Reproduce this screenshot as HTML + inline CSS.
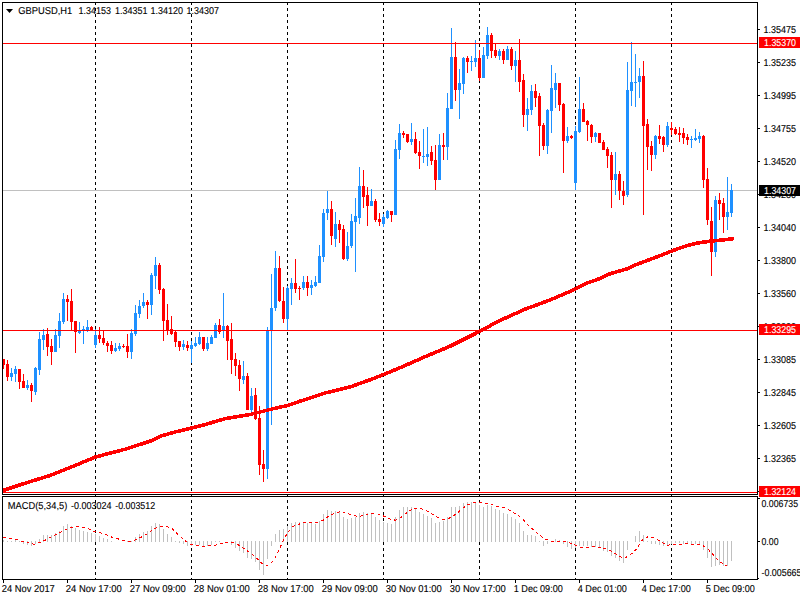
<!DOCTYPE html>
<html lang="en"><head><meta charset="utf-8"><title>GBPUSD,H1</title>
<style>html,body{margin:0;padding:0;background:#fff;overflow:hidden}svg{display:block}text{font-family:"Liberation Sans",sans-serif;font-size:10px;fill:#000;text-rendering:geometricPrecision;stroke:#000;stroke-width:0.12px}</style>
</head><body>
<svg width="800" height="600" viewBox="0 0 800 600" shape-rendering="crispEdges">
<rect x="0" y="0" width="800" height="600" fill="#fff"/>
<g fill="#000">
<rect x="95" y="2" width="1" height="3"/>
<rect x="95" y="8" width="1" height="3"/>
<rect x="95" y="14" width="1" height="3"/>
<rect x="95" y="20" width="1" height="3"/>
<rect x="95" y="26" width="1" height="3"/>
<rect x="95" y="32" width="1" height="3"/>
<rect x="95" y="38" width="1" height="3"/>
<rect x="95" y="44" width="1" height="3"/>
<rect x="95" y="50" width="1" height="3"/>
<rect x="95" y="56" width="1" height="3"/>
<rect x="95" y="62" width="1" height="3"/>
<rect x="95" y="68" width="1" height="3"/>
<rect x="95" y="74" width="1" height="3"/>
<rect x="95" y="80" width="1" height="3"/>
<rect x="95" y="86" width="1" height="3"/>
<rect x="95" y="92" width="1" height="3"/>
<rect x="95" y="98" width="1" height="3"/>
<rect x="95" y="104" width="1" height="3"/>
<rect x="95" y="110" width="1" height="3"/>
<rect x="95" y="116" width="1" height="3"/>
<rect x="95" y="122" width="1" height="3"/>
<rect x="95" y="128" width="1" height="3"/>
<rect x="95" y="134" width="1" height="3"/>
<rect x="95" y="140" width="1" height="3"/>
<rect x="95" y="146" width="1" height="3"/>
<rect x="95" y="152" width="1" height="3"/>
<rect x="95" y="158" width="1" height="3"/>
<rect x="95" y="164" width="1" height="3"/>
<rect x="95" y="170" width="1" height="3"/>
<rect x="95" y="176" width="1" height="3"/>
<rect x="95" y="182" width="1" height="3"/>
<rect x="95" y="188" width="1" height="3"/>
<rect x="95" y="194" width="1" height="3"/>
<rect x="95" y="200" width="1" height="3"/>
<rect x="95" y="206" width="1" height="3"/>
<rect x="95" y="212" width="1" height="3"/>
<rect x="95" y="218" width="1" height="3"/>
<rect x="95" y="224" width="1" height="3"/>
<rect x="95" y="230" width="1" height="3"/>
<rect x="95" y="236" width="1" height="3"/>
<rect x="95" y="242" width="1" height="3"/>
<rect x="95" y="248" width="1" height="3"/>
<rect x="95" y="254" width="1" height="3"/>
<rect x="95" y="260" width="1" height="3"/>
<rect x="95" y="266" width="1" height="3"/>
<rect x="95" y="272" width="1" height="3"/>
<rect x="95" y="278" width="1" height="3"/>
<rect x="95" y="284" width="1" height="3"/>
<rect x="95" y="290" width="1" height="3"/>
<rect x="95" y="296" width="1" height="3"/>
<rect x="95" y="302" width="1" height="3"/>
<rect x="95" y="308" width="1" height="3"/>
<rect x="95" y="314" width="1" height="3"/>
<rect x="95" y="320" width="1" height="3"/>
<rect x="95" y="326" width="1" height="3"/>
<rect x="95" y="332" width="1" height="3"/>
<rect x="95" y="338" width="1" height="3"/>
<rect x="95" y="344" width="1" height="3"/>
<rect x="95" y="350" width="1" height="3"/>
<rect x="95" y="356" width="1" height="3"/>
<rect x="95" y="362" width="1" height="3"/>
<rect x="95" y="368" width="1" height="3"/>
<rect x="95" y="374" width="1" height="3"/>
<rect x="95" y="380" width="1" height="3"/>
<rect x="95" y="386" width="1" height="3"/>
<rect x="95" y="392" width="1" height="3"/>
<rect x="95" y="398" width="1" height="3"/>
<rect x="95" y="404" width="1" height="3"/>
<rect x="95" y="410" width="1" height="3"/>
<rect x="95" y="416" width="1" height="3"/>
<rect x="95" y="422" width="1" height="3"/>
<rect x="95" y="428" width="1" height="3"/>
<rect x="95" y="434" width="1" height="3"/>
<rect x="95" y="440" width="1" height="3"/>
<rect x="95" y="446" width="1" height="3"/>
<rect x="95" y="452" width="1" height="3"/>
<rect x="95" y="458" width="1" height="3"/>
<rect x="95" y="464" width="1" height="3"/>
<rect x="95" y="470" width="1" height="3"/>
<rect x="95" y="476" width="1" height="3"/>
<rect x="95" y="482" width="1" height="3"/>
<rect x="95" y="488" width="1" height="3"/>
<rect x="95" y="494" width="1" height="3"/>
<rect x="95" y="500" width="1" height="3"/>
<rect x="95" y="506" width="1" height="3"/>
<rect x="95" y="512" width="1" height="3"/>
<rect x="95" y="518" width="1" height="3"/>
<rect x="95" y="524" width="1" height="3"/>
<rect x="95" y="530" width="1" height="3"/>
<rect x="95" y="536" width="1" height="3"/>
<rect x="95" y="542" width="1" height="3"/>
<rect x="95" y="548" width="1" height="3"/>
<rect x="95" y="554" width="1" height="3"/>
<rect x="95" y="560" width="1" height="3"/>
<rect x="95" y="566" width="1" height="3"/>
<rect x="95" y="572" width="1" height="3"/>
<rect x="95" y="578" width="1" height="2"/>
<rect x="191" y="2" width="1" height="3"/>
<rect x="191" y="8" width="1" height="3"/>
<rect x="191" y="14" width="1" height="3"/>
<rect x="191" y="20" width="1" height="3"/>
<rect x="191" y="26" width="1" height="3"/>
<rect x="191" y="32" width="1" height="3"/>
<rect x="191" y="38" width="1" height="3"/>
<rect x="191" y="44" width="1" height="3"/>
<rect x="191" y="50" width="1" height="3"/>
<rect x="191" y="56" width="1" height="3"/>
<rect x="191" y="62" width="1" height="3"/>
<rect x="191" y="68" width="1" height="3"/>
<rect x="191" y="74" width="1" height="3"/>
<rect x="191" y="80" width="1" height="3"/>
<rect x="191" y="86" width="1" height="3"/>
<rect x="191" y="92" width="1" height="3"/>
<rect x="191" y="98" width="1" height="3"/>
<rect x="191" y="104" width="1" height="3"/>
<rect x="191" y="110" width="1" height="3"/>
<rect x="191" y="116" width="1" height="3"/>
<rect x="191" y="122" width="1" height="3"/>
<rect x="191" y="128" width="1" height="3"/>
<rect x="191" y="134" width="1" height="3"/>
<rect x="191" y="140" width="1" height="3"/>
<rect x="191" y="146" width="1" height="3"/>
<rect x="191" y="152" width="1" height="3"/>
<rect x="191" y="158" width="1" height="3"/>
<rect x="191" y="164" width="1" height="3"/>
<rect x="191" y="170" width="1" height="3"/>
<rect x="191" y="176" width="1" height="3"/>
<rect x="191" y="182" width="1" height="3"/>
<rect x="191" y="188" width="1" height="3"/>
<rect x="191" y="194" width="1" height="3"/>
<rect x="191" y="200" width="1" height="3"/>
<rect x="191" y="206" width="1" height="3"/>
<rect x="191" y="212" width="1" height="3"/>
<rect x="191" y="218" width="1" height="3"/>
<rect x="191" y="224" width="1" height="3"/>
<rect x="191" y="230" width="1" height="3"/>
<rect x="191" y="236" width="1" height="3"/>
<rect x="191" y="242" width="1" height="3"/>
<rect x="191" y="248" width="1" height="3"/>
<rect x="191" y="254" width="1" height="3"/>
<rect x="191" y="260" width="1" height="3"/>
<rect x="191" y="266" width="1" height="3"/>
<rect x="191" y="272" width="1" height="3"/>
<rect x="191" y="278" width="1" height="3"/>
<rect x="191" y="284" width="1" height="3"/>
<rect x="191" y="290" width="1" height="3"/>
<rect x="191" y="296" width="1" height="3"/>
<rect x="191" y="302" width="1" height="3"/>
<rect x="191" y="308" width="1" height="3"/>
<rect x="191" y="314" width="1" height="3"/>
<rect x="191" y="320" width="1" height="3"/>
<rect x="191" y="326" width="1" height="3"/>
<rect x="191" y="332" width="1" height="3"/>
<rect x="191" y="338" width="1" height="3"/>
<rect x="191" y="344" width="1" height="3"/>
<rect x="191" y="350" width="1" height="3"/>
<rect x="191" y="356" width="1" height="3"/>
<rect x="191" y="362" width="1" height="3"/>
<rect x="191" y="368" width="1" height="3"/>
<rect x="191" y="374" width="1" height="3"/>
<rect x="191" y="380" width="1" height="3"/>
<rect x="191" y="386" width="1" height="3"/>
<rect x="191" y="392" width="1" height="3"/>
<rect x="191" y="398" width="1" height="3"/>
<rect x="191" y="404" width="1" height="3"/>
<rect x="191" y="410" width="1" height="3"/>
<rect x="191" y="416" width="1" height="3"/>
<rect x="191" y="422" width="1" height="3"/>
<rect x="191" y="428" width="1" height="3"/>
<rect x="191" y="434" width="1" height="3"/>
<rect x="191" y="440" width="1" height="3"/>
<rect x="191" y="446" width="1" height="3"/>
<rect x="191" y="452" width="1" height="3"/>
<rect x="191" y="458" width="1" height="3"/>
<rect x="191" y="464" width="1" height="3"/>
<rect x="191" y="470" width="1" height="3"/>
<rect x="191" y="476" width="1" height="3"/>
<rect x="191" y="482" width="1" height="3"/>
<rect x="191" y="488" width="1" height="3"/>
<rect x="191" y="494" width="1" height="3"/>
<rect x="191" y="500" width="1" height="3"/>
<rect x="191" y="506" width="1" height="3"/>
<rect x="191" y="512" width="1" height="3"/>
<rect x="191" y="518" width="1" height="3"/>
<rect x="191" y="524" width="1" height="3"/>
<rect x="191" y="530" width="1" height="3"/>
<rect x="191" y="536" width="1" height="3"/>
<rect x="191" y="542" width="1" height="3"/>
<rect x="191" y="548" width="1" height="3"/>
<rect x="191" y="554" width="1" height="3"/>
<rect x="191" y="560" width="1" height="3"/>
<rect x="191" y="566" width="1" height="3"/>
<rect x="191" y="572" width="1" height="3"/>
<rect x="191" y="578" width="1" height="2"/>
<rect x="287" y="2" width="1" height="3"/>
<rect x="287" y="8" width="1" height="3"/>
<rect x="287" y="14" width="1" height="3"/>
<rect x="287" y="20" width="1" height="3"/>
<rect x="287" y="26" width="1" height="3"/>
<rect x="287" y="32" width="1" height="3"/>
<rect x="287" y="38" width="1" height="3"/>
<rect x="287" y="44" width="1" height="3"/>
<rect x="287" y="50" width="1" height="3"/>
<rect x="287" y="56" width="1" height="3"/>
<rect x="287" y="62" width="1" height="3"/>
<rect x="287" y="68" width="1" height="3"/>
<rect x="287" y="74" width="1" height="3"/>
<rect x="287" y="80" width="1" height="3"/>
<rect x="287" y="86" width="1" height="3"/>
<rect x="287" y="92" width="1" height="3"/>
<rect x="287" y="98" width="1" height="3"/>
<rect x="287" y="104" width="1" height="3"/>
<rect x="287" y="110" width="1" height="3"/>
<rect x="287" y="116" width="1" height="3"/>
<rect x="287" y="122" width="1" height="3"/>
<rect x="287" y="128" width="1" height="3"/>
<rect x="287" y="134" width="1" height="3"/>
<rect x="287" y="140" width="1" height="3"/>
<rect x="287" y="146" width="1" height="3"/>
<rect x="287" y="152" width="1" height="3"/>
<rect x="287" y="158" width="1" height="3"/>
<rect x="287" y="164" width="1" height="3"/>
<rect x="287" y="170" width="1" height="3"/>
<rect x="287" y="176" width="1" height="3"/>
<rect x="287" y="182" width="1" height="3"/>
<rect x="287" y="188" width="1" height="3"/>
<rect x="287" y="194" width="1" height="3"/>
<rect x="287" y="200" width="1" height="3"/>
<rect x="287" y="206" width="1" height="3"/>
<rect x="287" y="212" width="1" height="3"/>
<rect x="287" y="218" width="1" height="3"/>
<rect x="287" y="224" width="1" height="3"/>
<rect x="287" y="230" width="1" height="3"/>
<rect x="287" y="236" width="1" height="3"/>
<rect x="287" y="242" width="1" height="3"/>
<rect x="287" y="248" width="1" height="3"/>
<rect x="287" y="254" width="1" height="3"/>
<rect x="287" y="260" width="1" height="3"/>
<rect x="287" y="266" width="1" height="3"/>
<rect x="287" y="272" width="1" height="3"/>
<rect x="287" y="278" width="1" height="3"/>
<rect x="287" y="284" width="1" height="3"/>
<rect x="287" y="290" width="1" height="3"/>
<rect x="287" y="296" width="1" height="3"/>
<rect x="287" y="302" width="1" height="3"/>
<rect x="287" y="308" width="1" height="3"/>
<rect x="287" y="314" width="1" height="3"/>
<rect x="287" y="320" width="1" height="3"/>
<rect x="287" y="326" width="1" height="3"/>
<rect x="287" y="332" width="1" height="3"/>
<rect x="287" y="338" width="1" height="3"/>
<rect x="287" y="344" width="1" height="3"/>
<rect x="287" y="350" width="1" height="3"/>
<rect x="287" y="356" width="1" height="3"/>
<rect x="287" y="362" width="1" height="3"/>
<rect x="287" y="368" width="1" height="3"/>
<rect x="287" y="374" width="1" height="3"/>
<rect x="287" y="380" width="1" height="3"/>
<rect x="287" y="386" width="1" height="3"/>
<rect x="287" y="392" width="1" height="3"/>
<rect x="287" y="398" width="1" height="3"/>
<rect x="287" y="404" width="1" height="3"/>
<rect x="287" y="410" width="1" height="3"/>
<rect x="287" y="416" width="1" height="3"/>
<rect x="287" y="422" width="1" height="3"/>
<rect x="287" y="428" width="1" height="3"/>
<rect x="287" y="434" width="1" height="3"/>
<rect x="287" y="440" width="1" height="3"/>
<rect x="287" y="446" width="1" height="3"/>
<rect x="287" y="452" width="1" height="3"/>
<rect x="287" y="458" width="1" height="3"/>
<rect x="287" y="464" width="1" height="3"/>
<rect x="287" y="470" width="1" height="3"/>
<rect x="287" y="476" width="1" height="3"/>
<rect x="287" y="482" width="1" height="3"/>
<rect x="287" y="488" width="1" height="3"/>
<rect x="287" y="494" width="1" height="3"/>
<rect x="287" y="500" width="1" height="3"/>
<rect x="287" y="506" width="1" height="3"/>
<rect x="287" y="512" width="1" height="3"/>
<rect x="287" y="518" width="1" height="3"/>
<rect x="287" y="524" width="1" height="3"/>
<rect x="287" y="530" width="1" height="3"/>
<rect x="287" y="536" width="1" height="3"/>
<rect x="287" y="542" width="1" height="3"/>
<rect x="287" y="548" width="1" height="3"/>
<rect x="287" y="554" width="1" height="3"/>
<rect x="287" y="560" width="1" height="3"/>
<rect x="287" y="566" width="1" height="3"/>
<rect x="287" y="572" width="1" height="3"/>
<rect x="287" y="578" width="1" height="2"/>
<rect x="383" y="2" width="1" height="3"/>
<rect x="383" y="8" width="1" height="3"/>
<rect x="383" y="14" width="1" height="3"/>
<rect x="383" y="20" width="1" height="3"/>
<rect x="383" y="26" width="1" height="3"/>
<rect x="383" y="32" width="1" height="3"/>
<rect x="383" y="38" width="1" height="3"/>
<rect x="383" y="44" width="1" height="3"/>
<rect x="383" y="50" width="1" height="3"/>
<rect x="383" y="56" width="1" height="3"/>
<rect x="383" y="62" width="1" height="3"/>
<rect x="383" y="68" width="1" height="3"/>
<rect x="383" y="74" width="1" height="3"/>
<rect x="383" y="80" width="1" height="3"/>
<rect x="383" y="86" width="1" height="3"/>
<rect x="383" y="92" width="1" height="3"/>
<rect x="383" y="98" width="1" height="3"/>
<rect x="383" y="104" width="1" height="3"/>
<rect x="383" y="110" width="1" height="3"/>
<rect x="383" y="116" width="1" height="3"/>
<rect x="383" y="122" width="1" height="3"/>
<rect x="383" y="128" width="1" height="3"/>
<rect x="383" y="134" width="1" height="3"/>
<rect x="383" y="140" width="1" height="3"/>
<rect x="383" y="146" width="1" height="3"/>
<rect x="383" y="152" width="1" height="3"/>
<rect x="383" y="158" width="1" height="3"/>
<rect x="383" y="164" width="1" height="3"/>
<rect x="383" y="170" width="1" height="3"/>
<rect x="383" y="176" width="1" height="3"/>
<rect x="383" y="182" width="1" height="3"/>
<rect x="383" y="188" width="1" height="3"/>
<rect x="383" y="194" width="1" height="3"/>
<rect x="383" y="200" width="1" height="3"/>
<rect x="383" y="206" width="1" height="3"/>
<rect x="383" y="212" width="1" height="3"/>
<rect x="383" y="218" width="1" height="3"/>
<rect x="383" y="224" width="1" height="3"/>
<rect x="383" y="230" width="1" height="3"/>
<rect x="383" y="236" width="1" height="3"/>
<rect x="383" y="242" width="1" height="3"/>
<rect x="383" y="248" width="1" height="3"/>
<rect x="383" y="254" width="1" height="3"/>
<rect x="383" y="260" width="1" height="3"/>
<rect x="383" y="266" width="1" height="3"/>
<rect x="383" y="272" width="1" height="3"/>
<rect x="383" y="278" width="1" height="3"/>
<rect x="383" y="284" width="1" height="3"/>
<rect x="383" y="290" width="1" height="3"/>
<rect x="383" y="296" width="1" height="3"/>
<rect x="383" y="302" width="1" height="3"/>
<rect x="383" y="308" width="1" height="3"/>
<rect x="383" y="314" width="1" height="3"/>
<rect x="383" y="320" width="1" height="3"/>
<rect x="383" y="326" width="1" height="3"/>
<rect x="383" y="332" width="1" height="3"/>
<rect x="383" y="338" width="1" height="3"/>
<rect x="383" y="344" width="1" height="3"/>
<rect x="383" y="350" width="1" height="3"/>
<rect x="383" y="356" width="1" height="3"/>
<rect x="383" y="362" width="1" height="3"/>
<rect x="383" y="368" width="1" height="3"/>
<rect x="383" y="374" width="1" height="3"/>
<rect x="383" y="380" width="1" height="3"/>
<rect x="383" y="386" width="1" height="3"/>
<rect x="383" y="392" width="1" height="3"/>
<rect x="383" y="398" width="1" height="3"/>
<rect x="383" y="404" width="1" height="3"/>
<rect x="383" y="410" width="1" height="3"/>
<rect x="383" y="416" width="1" height="3"/>
<rect x="383" y="422" width="1" height="3"/>
<rect x="383" y="428" width="1" height="3"/>
<rect x="383" y="434" width="1" height="3"/>
<rect x="383" y="440" width="1" height="3"/>
<rect x="383" y="446" width="1" height="3"/>
<rect x="383" y="452" width="1" height="3"/>
<rect x="383" y="458" width="1" height="3"/>
<rect x="383" y="464" width="1" height="3"/>
<rect x="383" y="470" width="1" height="3"/>
<rect x="383" y="476" width="1" height="3"/>
<rect x="383" y="482" width="1" height="3"/>
<rect x="383" y="488" width="1" height="3"/>
<rect x="383" y="494" width="1" height="3"/>
<rect x="383" y="500" width="1" height="3"/>
<rect x="383" y="506" width="1" height="3"/>
<rect x="383" y="512" width="1" height="3"/>
<rect x="383" y="518" width="1" height="3"/>
<rect x="383" y="524" width="1" height="3"/>
<rect x="383" y="530" width="1" height="3"/>
<rect x="383" y="536" width="1" height="3"/>
<rect x="383" y="542" width="1" height="3"/>
<rect x="383" y="548" width="1" height="3"/>
<rect x="383" y="554" width="1" height="3"/>
<rect x="383" y="560" width="1" height="3"/>
<rect x="383" y="566" width="1" height="3"/>
<rect x="383" y="572" width="1" height="3"/>
<rect x="383" y="578" width="1" height="2"/>
<rect x="479" y="2" width="1" height="3"/>
<rect x="479" y="8" width="1" height="3"/>
<rect x="479" y="14" width="1" height="3"/>
<rect x="479" y="20" width="1" height="3"/>
<rect x="479" y="26" width="1" height="3"/>
<rect x="479" y="32" width="1" height="3"/>
<rect x="479" y="38" width="1" height="3"/>
<rect x="479" y="44" width="1" height="3"/>
<rect x="479" y="50" width="1" height="3"/>
<rect x="479" y="56" width="1" height="3"/>
<rect x="479" y="62" width="1" height="3"/>
<rect x="479" y="68" width="1" height="3"/>
<rect x="479" y="74" width="1" height="3"/>
<rect x="479" y="80" width="1" height="3"/>
<rect x="479" y="86" width="1" height="3"/>
<rect x="479" y="92" width="1" height="3"/>
<rect x="479" y="98" width="1" height="3"/>
<rect x="479" y="104" width="1" height="3"/>
<rect x="479" y="110" width="1" height="3"/>
<rect x="479" y="116" width="1" height="3"/>
<rect x="479" y="122" width="1" height="3"/>
<rect x="479" y="128" width="1" height="3"/>
<rect x="479" y="134" width="1" height="3"/>
<rect x="479" y="140" width="1" height="3"/>
<rect x="479" y="146" width="1" height="3"/>
<rect x="479" y="152" width="1" height="3"/>
<rect x="479" y="158" width="1" height="3"/>
<rect x="479" y="164" width="1" height="3"/>
<rect x="479" y="170" width="1" height="3"/>
<rect x="479" y="176" width="1" height="3"/>
<rect x="479" y="182" width="1" height="3"/>
<rect x="479" y="188" width="1" height="3"/>
<rect x="479" y="194" width="1" height="3"/>
<rect x="479" y="200" width="1" height="3"/>
<rect x="479" y="206" width="1" height="3"/>
<rect x="479" y="212" width="1" height="3"/>
<rect x="479" y="218" width="1" height="3"/>
<rect x="479" y="224" width="1" height="3"/>
<rect x="479" y="230" width="1" height="3"/>
<rect x="479" y="236" width="1" height="3"/>
<rect x="479" y="242" width="1" height="3"/>
<rect x="479" y="248" width="1" height="3"/>
<rect x="479" y="254" width="1" height="3"/>
<rect x="479" y="260" width="1" height="3"/>
<rect x="479" y="266" width="1" height="3"/>
<rect x="479" y="272" width="1" height="3"/>
<rect x="479" y="278" width="1" height="3"/>
<rect x="479" y="284" width="1" height="3"/>
<rect x="479" y="290" width="1" height="3"/>
<rect x="479" y="296" width="1" height="3"/>
<rect x="479" y="302" width="1" height="3"/>
<rect x="479" y="308" width="1" height="3"/>
<rect x="479" y="314" width="1" height="3"/>
<rect x="479" y="320" width="1" height="3"/>
<rect x="479" y="326" width="1" height="3"/>
<rect x="479" y="332" width="1" height="3"/>
<rect x="479" y="338" width="1" height="3"/>
<rect x="479" y="344" width="1" height="3"/>
<rect x="479" y="350" width="1" height="3"/>
<rect x="479" y="356" width="1" height="3"/>
<rect x="479" y="362" width="1" height="3"/>
<rect x="479" y="368" width="1" height="3"/>
<rect x="479" y="374" width="1" height="3"/>
<rect x="479" y="380" width="1" height="3"/>
<rect x="479" y="386" width="1" height="3"/>
<rect x="479" y="392" width="1" height="3"/>
<rect x="479" y="398" width="1" height="3"/>
<rect x="479" y="404" width="1" height="3"/>
<rect x="479" y="410" width="1" height="3"/>
<rect x="479" y="416" width="1" height="3"/>
<rect x="479" y="422" width="1" height="3"/>
<rect x="479" y="428" width="1" height="3"/>
<rect x="479" y="434" width="1" height="3"/>
<rect x="479" y="440" width="1" height="3"/>
<rect x="479" y="446" width="1" height="3"/>
<rect x="479" y="452" width="1" height="3"/>
<rect x="479" y="458" width="1" height="3"/>
<rect x="479" y="464" width="1" height="3"/>
<rect x="479" y="470" width="1" height="3"/>
<rect x="479" y="476" width="1" height="3"/>
<rect x="479" y="482" width="1" height="3"/>
<rect x="479" y="488" width="1" height="3"/>
<rect x="479" y="494" width="1" height="3"/>
<rect x="479" y="500" width="1" height="3"/>
<rect x="479" y="506" width="1" height="3"/>
<rect x="479" y="512" width="1" height="3"/>
<rect x="479" y="518" width="1" height="3"/>
<rect x="479" y="524" width="1" height="3"/>
<rect x="479" y="530" width="1" height="3"/>
<rect x="479" y="536" width="1" height="3"/>
<rect x="479" y="542" width="1" height="3"/>
<rect x="479" y="548" width="1" height="3"/>
<rect x="479" y="554" width="1" height="3"/>
<rect x="479" y="560" width="1" height="3"/>
<rect x="479" y="566" width="1" height="3"/>
<rect x="479" y="572" width="1" height="3"/>
<rect x="479" y="578" width="1" height="2"/>
<rect x="575" y="2" width="1" height="3"/>
<rect x="575" y="8" width="1" height="3"/>
<rect x="575" y="14" width="1" height="3"/>
<rect x="575" y="20" width="1" height="3"/>
<rect x="575" y="26" width="1" height="3"/>
<rect x="575" y="32" width="1" height="3"/>
<rect x="575" y="38" width="1" height="3"/>
<rect x="575" y="44" width="1" height="3"/>
<rect x="575" y="50" width="1" height="3"/>
<rect x="575" y="56" width="1" height="3"/>
<rect x="575" y="62" width="1" height="3"/>
<rect x="575" y="68" width="1" height="3"/>
<rect x="575" y="74" width="1" height="3"/>
<rect x="575" y="80" width="1" height="3"/>
<rect x="575" y="86" width="1" height="3"/>
<rect x="575" y="92" width="1" height="3"/>
<rect x="575" y="98" width="1" height="3"/>
<rect x="575" y="104" width="1" height="3"/>
<rect x="575" y="110" width="1" height="3"/>
<rect x="575" y="116" width="1" height="3"/>
<rect x="575" y="122" width="1" height="3"/>
<rect x="575" y="128" width="1" height="3"/>
<rect x="575" y="134" width="1" height="3"/>
<rect x="575" y="140" width="1" height="3"/>
<rect x="575" y="146" width="1" height="3"/>
<rect x="575" y="152" width="1" height="3"/>
<rect x="575" y="158" width="1" height="3"/>
<rect x="575" y="164" width="1" height="3"/>
<rect x="575" y="170" width="1" height="3"/>
<rect x="575" y="176" width="1" height="3"/>
<rect x="575" y="182" width="1" height="3"/>
<rect x="575" y="188" width="1" height="3"/>
<rect x="575" y="194" width="1" height="3"/>
<rect x="575" y="200" width="1" height="3"/>
<rect x="575" y="206" width="1" height="3"/>
<rect x="575" y="212" width="1" height="3"/>
<rect x="575" y="218" width="1" height="3"/>
<rect x="575" y="224" width="1" height="3"/>
<rect x="575" y="230" width="1" height="3"/>
<rect x="575" y="236" width="1" height="3"/>
<rect x="575" y="242" width="1" height="3"/>
<rect x="575" y="248" width="1" height="3"/>
<rect x="575" y="254" width="1" height="3"/>
<rect x="575" y="260" width="1" height="3"/>
<rect x="575" y="266" width="1" height="3"/>
<rect x="575" y="272" width="1" height="3"/>
<rect x="575" y="278" width="1" height="3"/>
<rect x="575" y="284" width="1" height="3"/>
<rect x="575" y="290" width="1" height="3"/>
<rect x="575" y="296" width="1" height="3"/>
<rect x="575" y="302" width="1" height="3"/>
<rect x="575" y="308" width="1" height="3"/>
<rect x="575" y="314" width="1" height="3"/>
<rect x="575" y="320" width="1" height="3"/>
<rect x="575" y="326" width="1" height="3"/>
<rect x="575" y="332" width="1" height="3"/>
<rect x="575" y="338" width="1" height="3"/>
<rect x="575" y="344" width="1" height="3"/>
<rect x="575" y="350" width="1" height="3"/>
<rect x="575" y="356" width="1" height="3"/>
<rect x="575" y="362" width="1" height="3"/>
<rect x="575" y="368" width="1" height="3"/>
<rect x="575" y="374" width="1" height="3"/>
<rect x="575" y="380" width="1" height="3"/>
<rect x="575" y="386" width="1" height="3"/>
<rect x="575" y="392" width="1" height="3"/>
<rect x="575" y="398" width="1" height="3"/>
<rect x="575" y="404" width="1" height="3"/>
<rect x="575" y="410" width="1" height="3"/>
<rect x="575" y="416" width="1" height="3"/>
<rect x="575" y="422" width="1" height="3"/>
<rect x="575" y="428" width="1" height="3"/>
<rect x="575" y="434" width="1" height="3"/>
<rect x="575" y="440" width="1" height="3"/>
<rect x="575" y="446" width="1" height="3"/>
<rect x="575" y="452" width="1" height="3"/>
<rect x="575" y="458" width="1" height="3"/>
<rect x="575" y="464" width="1" height="3"/>
<rect x="575" y="470" width="1" height="3"/>
<rect x="575" y="476" width="1" height="3"/>
<rect x="575" y="482" width="1" height="3"/>
<rect x="575" y="488" width="1" height="3"/>
<rect x="575" y="494" width="1" height="3"/>
<rect x="575" y="500" width="1" height="3"/>
<rect x="575" y="506" width="1" height="3"/>
<rect x="575" y="512" width="1" height="3"/>
<rect x="575" y="518" width="1" height="3"/>
<rect x="575" y="524" width="1" height="3"/>
<rect x="575" y="530" width="1" height="3"/>
<rect x="575" y="536" width="1" height="3"/>
<rect x="575" y="542" width="1" height="3"/>
<rect x="575" y="548" width="1" height="3"/>
<rect x="575" y="554" width="1" height="3"/>
<rect x="575" y="560" width="1" height="3"/>
<rect x="575" y="566" width="1" height="3"/>
<rect x="575" y="572" width="1" height="3"/>
<rect x="575" y="578" width="1" height="2"/>
<rect x="671" y="2" width="1" height="3"/>
<rect x="671" y="8" width="1" height="3"/>
<rect x="671" y="14" width="1" height="3"/>
<rect x="671" y="20" width="1" height="3"/>
<rect x="671" y="26" width="1" height="3"/>
<rect x="671" y="32" width="1" height="3"/>
<rect x="671" y="38" width="1" height="3"/>
<rect x="671" y="44" width="1" height="3"/>
<rect x="671" y="50" width="1" height="3"/>
<rect x="671" y="56" width="1" height="3"/>
<rect x="671" y="62" width="1" height="3"/>
<rect x="671" y="68" width="1" height="3"/>
<rect x="671" y="74" width="1" height="3"/>
<rect x="671" y="80" width="1" height="3"/>
<rect x="671" y="86" width="1" height="3"/>
<rect x="671" y="92" width="1" height="3"/>
<rect x="671" y="98" width="1" height="3"/>
<rect x="671" y="104" width="1" height="3"/>
<rect x="671" y="110" width="1" height="3"/>
<rect x="671" y="116" width="1" height="3"/>
<rect x="671" y="122" width="1" height="3"/>
<rect x="671" y="128" width="1" height="3"/>
<rect x="671" y="134" width="1" height="3"/>
<rect x="671" y="140" width="1" height="3"/>
<rect x="671" y="146" width="1" height="3"/>
<rect x="671" y="152" width="1" height="3"/>
<rect x="671" y="158" width="1" height="3"/>
<rect x="671" y="164" width="1" height="3"/>
<rect x="671" y="170" width="1" height="3"/>
<rect x="671" y="176" width="1" height="3"/>
<rect x="671" y="182" width="1" height="3"/>
<rect x="671" y="188" width="1" height="3"/>
<rect x="671" y="194" width="1" height="3"/>
<rect x="671" y="200" width="1" height="3"/>
<rect x="671" y="206" width="1" height="3"/>
<rect x="671" y="212" width="1" height="3"/>
<rect x="671" y="218" width="1" height="3"/>
<rect x="671" y="224" width="1" height="3"/>
<rect x="671" y="230" width="1" height="3"/>
<rect x="671" y="236" width="1" height="3"/>
<rect x="671" y="242" width="1" height="3"/>
<rect x="671" y="248" width="1" height="3"/>
<rect x="671" y="254" width="1" height="3"/>
<rect x="671" y="260" width="1" height="3"/>
<rect x="671" y="266" width="1" height="3"/>
<rect x="671" y="272" width="1" height="3"/>
<rect x="671" y="278" width="1" height="3"/>
<rect x="671" y="284" width="1" height="3"/>
<rect x="671" y="290" width="1" height="3"/>
<rect x="671" y="296" width="1" height="3"/>
<rect x="671" y="302" width="1" height="3"/>
<rect x="671" y="308" width="1" height="3"/>
<rect x="671" y="314" width="1" height="3"/>
<rect x="671" y="320" width="1" height="3"/>
<rect x="671" y="326" width="1" height="3"/>
<rect x="671" y="332" width="1" height="3"/>
<rect x="671" y="338" width="1" height="3"/>
<rect x="671" y="344" width="1" height="3"/>
<rect x="671" y="350" width="1" height="3"/>
<rect x="671" y="356" width="1" height="3"/>
<rect x="671" y="362" width="1" height="3"/>
<rect x="671" y="368" width="1" height="3"/>
<rect x="671" y="374" width="1" height="3"/>
<rect x="671" y="380" width="1" height="3"/>
<rect x="671" y="386" width="1" height="3"/>
<rect x="671" y="392" width="1" height="3"/>
<rect x="671" y="398" width="1" height="3"/>
<rect x="671" y="404" width="1" height="3"/>
<rect x="671" y="410" width="1" height="3"/>
<rect x="671" y="416" width="1" height="3"/>
<rect x="671" y="422" width="1" height="3"/>
<rect x="671" y="428" width="1" height="3"/>
<rect x="671" y="434" width="1" height="3"/>
<rect x="671" y="440" width="1" height="3"/>
<rect x="671" y="446" width="1" height="3"/>
<rect x="671" y="452" width="1" height="3"/>
<rect x="671" y="458" width="1" height="3"/>
<rect x="671" y="464" width="1" height="3"/>
<rect x="671" y="470" width="1" height="3"/>
<rect x="671" y="476" width="1" height="3"/>
<rect x="671" y="482" width="1" height="3"/>
<rect x="671" y="488" width="1" height="3"/>
<rect x="671" y="494" width="1" height="3"/>
<rect x="671" y="500" width="1" height="3"/>
<rect x="671" y="506" width="1" height="3"/>
<rect x="671" y="512" width="1" height="3"/>
<rect x="671" y="518" width="1" height="3"/>
<rect x="671" y="524" width="1" height="3"/>
<rect x="671" y="530" width="1" height="3"/>
<rect x="671" y="536" width="1" height="3"/>
<rect x="671" y="542" width="1" height="3"/>
<rect x="671" y="548" width="1" height="3"/>
<rect x="671" y="554" width="1" height="3"/>
<rect x="671" y="560" width="1" height="3"/>
<rect x="671" y="566" width="1" height="3"/>
<rect x="671" y="572" width="1" height="3"/>
<rect x="671" y="578" width="1" height="2"/>
</g>
<rect x="3" y="190" width="754" height="1" fill="#C0C0C0"/>
<g fill="#C0C0C0">
<rect x="3" y="540" width="1" height="2"/>
<rect x="7" y="541" width="1" height="1"/>
<rect x="11" y="541" width="1" height="1"/>
<rect x="15" y="540" width="1" height="2"/>
<rect x="19" y="541" width="1" height="1"/>
<rect x="23" y="541" width="1" height="3"/>
<rect x="27" y="541" width="1" height="4"/>
<rect x="31" y="541" width="1" height="5"/>
<rect x="35" y="541" width="1" height="3"/>
<rect x="39" y="539" width="1" height="3"/>
<rect x="43" y="535" width="1" height="7"/>
<rect x="47" y="535" width="1" height="7"/>
<rect x="51" y="535" width="1" height="7"/>
<rect x="55" y="533" width="1" height="9"/>
<rect x="59" y="531" width="1" height="11"/>
<rect x="63" y="526" width="1" height="16"/>
<rect x="67" y="524" width="1" height="18"/>
<rect x="71" y="526" width="1" height="16"/>
<rect x="75" y="528" width="1" height="14"/>
<rect x="79" y="530" width="1" height="12"/>
<rect x="83" y="531" width="1" height="11"/>
<rect x="87" y="532" width="1" height="10"/>
<rect x="91" y="533" width="1" height="9"/>
<rect x="95" y="534" width="1" height="8"/>
<rect x="99" y="536" width="1" height="6"/>
<rect x="103" y="538" width="1" height="4"/>
<rect x="107" y="539" width="1" height="3"/>
<rect x="111" y="541" width="1" height="1"/>
<rect x="127" y="541" width="1" height="1"/>
<rect x="131" y="541" width="1" height="1"/>
<rect x="135" y="537" width="1" height="5"/>
<rect x="139" y="534" width="1" height="8"/>
<rect x="143" y="532" width="1" height="10"/>
<rect x="147" y="531" width="1" height="11"/>
<rect x="151" y="526" width="1" height="16"/>
<rect x="155" y="523" width="1" height="19"/>
<rect x="159" y="524" width="1" height="18"/>
<rect x="163" y="529" width="1" height="13"/>
<rect x="167" y="534" width="1" height="8"/>
<rect x="171" y="537" width="1" height="5"/>
<rect x="175" y="541" width="1" height="1"/>
<rect x="179" y="541" width="1" height="2"/>
<rect x="183" y="541" width="1" height="3"/>
<rect x="187" y="541" width="1" height="5"/>
<rect x="191" y="541" width="1" height="5"/>
<rect x="195" y="541" width="1" height="4"/>
<rect x="199" y="541" width="1" height="4"/>
<rect x="203" y="541" width="1" height="5"/>
<rect x="207" y="541" width="1" height="5"/>
<rect x="211" y="541" width="1" height="4"/>
<rect x="215" y="541" width="1" height="1"/>
<rect x="219" y="541" width="1" height="1"/>
<rect x="231" y="541" width="1" height="4"/>
<rect x="235" y="541" width="1" height="7"/>
<rect x="239" y="541" width="1" height="10"/>
<rect x="243" y="541" width="1" height="12"/>
<rect x="247" y="541" width="1" height="17"/>
<rect x="251" y="541" width="1" height="18"/>
<rect x="255" y="541" width="1" height="21"/>
<rect x="259" y="541" width="1" height="29"/>
<rect x="263" y="541" width="1" height="34"/>
<rect x="267" y="541" width="1" height="18"/>
<rect x="271" y="541" width="1" height="5"/>
<rect x="275" y="534" width="1" height="8"/>
<rect x="279" y="530" width="1" height="12"/>
<rect x="283" y="529" width="1" height="13"/>
<rect x="287" y="526" width="1" height="16"/>
<rect x="291" y="523" width="1" height="19"/>
<rect x="295" y="522" width="1" height="20"/>
<rect x="299" y="522" width="1" height="20"/>
<rect x="303" y="522" width="1" height="20"/>
<rect x="307" y="523" width="1" height="19"/>
<rect x="311" y="523" width="1" height="19"/>
<rect x="315" y="524" width="1" height="18"/>
<rect x="319" y="521" width="1" height="21"/>
<rect x="323" y="514" width="1" height="28"/>
<rect x="327" y="510" width="1" height="32"/>
<rect x="331" y="511" width="1" height="31"/>
<rect x="335" y="511" width="1" height="31"/>
<rect x="339" y="512" width="1" height="30"/>
<rect x="343" y="517" width="1" height="25"/>
<rect x="347" y="519" width="1" height="23"/>
<rect x="351" y="518" width="1" height="24"/>
<rect x="355" y="517" width="1" height="25"/>
<rect x="359" y="513" width="1" height="29"/>
<rect x="363" y="512" width="1" height="30"/>
<rect x="367" y="513" width="1" height="29"/>
<rect x="371" y="513" width="1" height="29"/>
<rect x="375" y="517" width="1" height="25"/>
<rect x="379" y="520" width="1" height="22"/>
<rect x="383" y="522" width="1" height="20"/>
<rect x="387" y="523" width="1" height="19"/>
<rect x="391" y="524" width="1" height="18"/>
<rect x="395" y="517" width="1" height="25"/>
<rect x="399" y="510" width="1" height="32"/>
<rect x="403" y="507" width="1" height="35"/>
<rect x="407" y="507" width="1" height="35"/>
<rect x="411" y="507" width="1" height="35"/>
<rect x="415" y="509" width="1" height="33"/>
<rect x="419" y="512" width="1" height="30"/>
<rect x="423" y="514" width="1" height="28"/>
<rect x="427" y="516" width="1" height="26"/>
<rect x="431" y="518" width="1" height="24"/>
<rect x="435" y="523" width="1" height="19"/>
<rect x="439" y="522" width="1" height="20"/>
<rect x="443" y="521" width="1" height="21"/>
<rect x="447" y="517" width="1" height="25"/>
<rect x="451" y="507" width="1" height="35"/>
<rect x="455" y="507" width="1" height="35"/>
<rect x="459" y="506" width="1" height="36"/>
<rect x="463" y="503" width="1" height="39"/>
<rect x="467" y="502" width="1" height="40"/>
<rect x="471" y="502" width="1" height="40"/>
<rect x="475" y="503" width="1" height="39"/>
<rect x="479" y="505" width="1" height="37"/>
<rect x="483" y="507" width="1" height="35"/>
<rect x="487" y="505" width="1" height="37"/>
<rect x="491" y="506" width="1" height="36"/>
<rect x="495" y="509" width="1" height="33"/>
<rect x="499" y="510" width="1" height="32"/>
<rect x="503" y="513" width="1" height="29"/>
<rect x="507" y="514" width="1" height="28"/>
<rect x="511" y="517" width="1" height="25"/>
<rect x="515" y="519" width="1" height="23"/>
<rect x="519" y="523" width="1" height="19"/>
<rect x="523" y="531" width="1" height="11"/>
<rect x="527" y="535" width="1" height="7"/>
<rect x="531" y="535" width="1" height="7"/>
<rect x="535" y="536" width="1" height="6"/>
<rect x="539" y="541" width="1" height="1"/>
<rect x="543" y="541" width="1" height="5"/>
<rect x="547" y="541" width="1" height="3"/>
<rect x="555" y="539" width="1" height="3"/>
<rect x="559" y="540" width="1" height="2"/>
<rect x="563" y="541" width="1" height="3"/>
<rect x="567" y="541" width="1" height="6"/>
<rect x="571" y="541" width="1" height="8"/>
<rect x="575" y="541" width="1" height="7"/>
<rect x="579" y="541" width="1" height="5"/>
<rect x="583" y="541" width="1" height="5"/>
<rect x="587" y="541" width="1" height="5"/>
<rect x="591" y="541" width="1" height="6"/>
<rect x="595" y="541" width="1" height="6"/>
<rect x="599" y="541" width="1" height="7"/>
<rect x="603" y="541" width="1" height="10"/>
<rect x="607" y="541" width="1" height="11"/>
<rect x="611" y="541" width="1" height="15"/>
<rect x="615" y="541" width="1" height="17"/>
<rect x="619" y="541" width="1" height="20"/>
<rect x="623" y="541" width="1" height="22"/>
<rect x="627" y="541" width="1" height="9"/>
<rect x="635" y="536" width="1" height="6"/>
<rect x="639" y="531" width="1" height="11"/>
<rect x="643" y="535" width="1" height="7"/>
<rect x="647" y="541" width="1" height="1"/>
<rect x="651" y="541" width="1" height="3"/>
<rect x="655" y="541" width="1" height="3"/>
<rect x="659" y="541" width="1" height="4"/>
<rect x="663" y="541" width="1" height="5"/>
<rect x="667" y="541" width="1" height="4"/>
<rect x="671" y="541" width="1" height="3"/>
<rect x="675" y="541" width="1" height="2"/>
<rect x="679" y="541" width="1" height="2"/>
<rect x="683" y="541" width="1" height="3"/>
<rect x="687" y="541" width="1" height="3"/>
<rect x="691" y="541" width="1" height="3"/>
<rect x="695" y="541" width="1" height="3"/>
<rect x="699" y="541" width="1" height="3"/>
<rect x="703" y="541" width="1" height="9"/>
<rect x="707" y="541" width="1" height="17"/>
<rect x="711" y="541" width="1" height="26"/>
<rect x="715" y="541" width="1" height="25"/>
<rect x="719" y="541" width="1" height="24"/>
<rect x="723" y="541" width="1" height="25"/>
<rect x="727" y="541" width="1" height="25"/>
<rect x="731" y="541" width="1" height="20"/>
</g>
<rect x="3" y="359" width="1" height="10" fill="#FF0000"/>
<rect x="3" y="359" width="2" height="6" fill="#FF0000"/>
<rect x="7" y="360" width="1" height="21" fill="#FF0000"/>
<rect x="6" y="364" width="3" height="13" fill="#FF0000"/>
<rect x="11" y="368" width="1" height="13" fill="#1E90FF"/>
<rect x="10" y="373" width="3" height="4" fill="#1E90FF"/>
<rect x="15" y="366" width="1" height="16" fill="#1E90FF"/>
<rect x="14" y="369" width="3" height="5" fill="#1E90FF"/>
<rect x="19" y="369" width="1" height="20" fill="#FF0000"/>
<rect x="18" y="369" width="3" height="13" fill="#FF0000"/>
<rect x="23" y="374" width="1" height="14" fill="#FF0000"/>
<rect x="22" y="381" width="3" height="7" fill="#FF0000"/>
<rect x="27" y="380" width="1" height="10" fill="#1E90FF"/>
<rect x="26" y="385" width="3" height="3" fill="#1E90FF"/>
<rect x="31" y="383" width="1" height="19" fill="#FF0000"/>
<rect x="30" y="385" width="3" height="6" fill="#FF0000"/>
<rect x="35" y="367" width="1" height="28" fill="#1E90FF"/>
<rect x="34" y="368" width="3" height="24" fill="#1E90FF"/>
<rect x="39" y="332" width="1" height="43" fill="#1E90FF"/>
<rect x="38" y="339" width="3" height="31" fill="#1E90FF"/>
<rect x="43" y="329" width="1" height="21" fill="#1E90FF"/>
<rect x="42" y="335" width="3" height="5" fill="#1E90FF"/>
<rect x="47" y="328" width="1" height="28" fill="#FF0000"/>
<rect x="46" y="334" width="3" height="13" fill="#FF0000"/>
<rect x="51" y="339" width="1" height="26" fill="#FF0000"/>
<rect x="50" y="346" width="3" height="6" fill="#FF0000"/>
<rect x="55" y="329" width="1" height="23" fill="#1E90FF"/>
<rect x="54" y="335" width="3" height="17" fill="#1E90FF"/>
<rect x="59" y="313" width="1" height="35" fill="#1E90FF"/>
<rect x="58" y="321" width="3" height="15" fill="#1E90FF"/>
<rect x="63" y="293" width="1" height="31" fill="#1E90FF"/>
<rect x="62" y="299" width="3" height="23" fill="#1E90FF"/>
<rect x="67" y="295" width="1" height="26" fill="#FF0000"/>
<rect x="66" y="299" width="3" height="3" fill="#FF0000"/>
<rect x="71" y="289" width="1" height="41" fill="#FF0000"/>
<rect x="70" y="301" width="3" height="21" fill="#FF0000"/>
<rect x="75" y="321" width="1" height="32" fill="#FF0000"/>
<rect x="74" y="321" width="3" height="11" fill="#FF0000"/>
<rect x="79" y="322" width="1" height="12" fill="#1E90FF"/>
<rect x="78" y="331" width="3" height="2" fill="#1E90FF"/>
<rect x="83" y="326" width="1" height="18" fill="#1E90FF"/>
<rect x="82" y="329" width="3" height="2" fill="#1E90FF"/>
<rect x="87" y="320" width="1" height="12" fill="#1E90FF"/>
<rect x="86" y="327" width="3" height="3" fill="#1E90FF"/>
<rect x="91" y="326" width="1" height="4" fill="#FF0000"/>
<rect x="90" y="327" width="3" height="3" fill="#FF0000"/>
<rect x="95" y="329" width="1" height="19" fill="#1E90FF"/>
<rect x="94" y="335" width="3" height="10" fill="#1E90FF"/>
<rect x="99" y="327" width="1" height="16" fill="#FF0000"/>
<rect x="98" y="335" width="3" height="4" fill="#FF0000"/>
<rect x="103" y="331" width="1" height="14" fill="#FF0000"/>
<rect x="102" y="338" width="3" height="5" fill="#FF0000"/>
<rect x="107" y="341" width="1" height="11" fill="#FF0000"/>
<rect x="106" y="343" width="3" height="3" fill="#FF0000"/>
<rect x="111" y="341" width="1" height="13" fill="#FF0000"/>
<rect x="110" y="345" width="3" height="6" fill="#FF0000"/>
<rect x="115" y="343" width="1" height="9" fill="#1E90FF"/>
<rect x="114" y="348" width="3" height="3" fill="#1E90FF"/>
<rect x="119" y="343" width="1" height="8" fill="#1E90FF"/>
<rect x="118" y="346" width="3" height="3" fill="#1E90FF"/>
<rect x="123" y="344" width="1" height="4" fill="#FF0000"/>
<rect x="122" y="346" width="3" height="1" fill="#FF0000"/>
<rect x="127" y="334" width="1" height="24" fill="#FF0000"/>
<rect x="126" y="346" width="3" height="6" fill="#FF0000"/>
<rect x="131" y="329" width="1" height="30" fill="#1E90FF"/>
<rect x="130" y="333" width="3" height="19" fill="#1E90FF"/>
<rect x="135" y="305" width="1" height="31" fill="#1E90FF"/>
<rect x="134" y="313" width="3" height="21" fill="#1E90FF"/>
<rect x="139" y="300" width="1" height="18" fill="#1E90FF"/>
<rect x="138" y="306" width="3" height="8" fill="#1E90FF"/>
<rect x="143" y="293" width="1" height="15" fill="#1E90FF"/>
<rect x="142" y="302" width="3" height="4" fill="#1E90FF"/>
<rect x="147" y="300" width="1" height="19" fill="#FF0000"/>
<rect x="146" y="302" width="3" height="3" fill="#FF0000"/>
<rect x="151" y="273" width="1" height="42" fill="#1E90FF"/>
<rect x="150" y="275" width="3" height="30" fill="#1E90FF"/>
<rect x="155" y="257" width="1" height="32" fill="#1E90FF"/>
<rect x="154" y="265" width="3" height="11" fill="#1E90FF"/>
<rect x="159" y="263" width="1" height="31" fill="#FF0000"/>
<rect x="158" y="265" width="3" height="25" fill="#FF0000"/>
<rect x="163" y="288" width="1" height="53" fill="#FF0000"/>
<rect x="162" y="289" width="3" height="32" fill="#FF0000"/>
<rect x="167" y="304" width="1" height="31" fill="#FF0000"/>
<rect x="166" y="320" width="3" height="10" fill="#FF0000"/>
<rect x="171" y="316" width="1" height="19" fill="#FF0000"/>
<rect x="170" y="329" width="3" height="5" fill="#FF0000"/>
<rect x="175" y="331" width="1" height="16" fill="#FF0000"/>
<rect x="174" y="332" width="3" height="10" fill="#FF0000"/>
<rect x="179" y="341" width="1" height="10" fill="#FF0000"/>
<rect x="178" y="341" width="3" height="6" fill="#FF0000"/>
<rect x="183" y="340" width="1" height="10" fill="#1E90FF"/>
<rect x="182" y="344" width="3" height="3" fill="#1E90FF"/>
<rect x="187" y="341" width="1" height="10" fill="#FF0000"/>
<rect x="186" y="345" width="3" height="3" fill="#FF0000"/>
<rect x="191" y="341" width="1" height="22" fill="#1E90FF"/>
<rect x="190" y="345" width="3" height="4" fill="#1E90FF"/>
<rect x="195" y="337" width="1" height="10" fill="#1E90FF"/>
<rect x="194" y="343" width="3" height="3" fill="#1E90FF"/>
<rect x="199" y="332" width="1" height="13" fill="#1E90FF"/>
<rect x="198" y="337" width="3" height="7" fill="#1E90FF"/>
<rect x="203" y="337" width="1" height="14" fill="#FF0000"/>
<rect x="202" y="337" width="3" height="12" fill="#FF0000"/>
<rect x="207" y="337" width="1" height="14" fill="#1E90FF"/>
<rect x="206" y="343" width="3" height="6" fill="#1E90FF"/>
<rect x="211" y="335" width="1" height="9" fill="#1E90FF"/>
<rect x="210" y="337" width="3" height="7" fill="#1E90FF"/>
<rect x="215" y="323" width="1" height="15" fill="#1E90FF"/>
<rect x="214" y="325" width="3" height="13" fill="#1E90FF"/>
<rect x="219" y="319" width="1" height="15" fill="#FF0000"/>
<rect x="218" y="325" width="3" height="7" fill="#FF0000"/>
<rect x="223" y="293" width="1" height="45" fill="#1E90FF"/>
<rect x="222" y="326" width="3" height="4" fill="#1E90FF"/>
<rect x="227" y="325" width="1" height="35" fill="#FF0000"/>
<rect x="226" y="326" width="3" height="15" fill="#FF0000"/>
<rect x="231" y="323" width="1" height="51" fill="#FF0000"/>
<rect x="230" y="339" width="3" height="21" fill="#FF0000"/>
<rect x="235" y="353" width="1" height="23" fill="#FF0000"/>
<rect x="234" y="359" width="3" height="7" fill="#FF0000"/>
<rect x="239" y="360" width="1" height="31" fill="#FF0000"/>
<rect x="238" y="365" width="3" height="14" fill="#FF0000"/>
<rect x="243" y="361" width="1" height="23" fill="#1E90FF"/>
<rect x="242" y="376" width="3" height="4" fill="#1E90FF"/>
<rect x="247" y="373" width="1" height="37" fill="#FF0000"/>
<rect x="246" y="376" width="3" height="34" fill="#FF0000"/>
<rect x="251" y="388" width="1" height="24" fill="#1E90FF"/>
<rect x="250" y="396" width="3" height="14" fill="#1E90FF"/>
<rect x="255" y="388" width="1" height="32" fill="#FF0000"/>
<rect x="254" y="395" width="3" height="24" fill="#FF0000"/>
<rect x="259" y="406" width="1" height="69" fill="#FF0000"/>
<rect x="258" y="418" width="3" height="47" fill="#FF0000"/>
<rect x="263" y="450" width="1" height="32" fill="#FF0000"/>
<rect x="262" y="464" width="3" height="5" fill="#FF0000"/>
<rect x="267" y="327" width="1" height="152" fill="#1E90FF"/>
<rect x="266" y="331" width="3" height="138" fill="#1E90FF"/>
<rect x="271" y="274" width="1" height="151" fill="#1E90FF"/>
<rect x="270" y="308" width="3" height="22" fill="#1E90FF"/>
<rect x="275" y="251" width="1" height="60" fill="#1E90FF"/>
<rect x="274" y="268" width="3" height="40" fill="#1E90FF"/>
<rect x="279" y="256" width="1" height="46" fill="#FF0000"/>
<rect x="278" y="268" width="3" height="33" fill="#FF0000"/>
<rect x="283" y="287" width="1" height="36" fill="#FF0000"/>
<rect x="282" y="301" width="3" height="18" fill="#FF0000"/>
<rect x="287" y="286" width="1" height="44" fill="#1E90FF"/>
<rect x="286" y="288" width="3" height="31" fill="#1E90FF"/>
<rect x="291" y="278" width="1" height="27" fill="#1E90FF"/>
<rect x="290" y="283" width="3" height="6" fill="#1E90FF"/>
<rect x="295" y="259" width="1" height="34" fill="#FF0000"/>
<rect x="294" y="283" width="3" height="6" fill="#FF0000"/>
<rect x="299" y="286" width="1" height="14" fill="#FF0000"/>
<rect x="298" y="288" width="3" height="1" fill="#FF0000"/>
<rect x="303" y="276" width="1" height="14" fill="#1E90FF"/>
<rect x="302" y="282" width="3" height="6" fill="#1E90FF"/>
<rect x="307" y="276" width="1" height="20" fill="#FF0000"/>
<rect x="306" y="282" width="3" height="6" fill="#FF0000"/>
<rect x="311" y="280" width="1" height="15" fill="#1E90FF"/>
<rect x="310" y="285" width="3" height="3" fill="#1E90FF"/>
<rect x="315" y="276" width="1" height="11" fill="#1E90FF"/>
<rect x="314" y="282" width="3" height="4" fill="#1E90FF"/>
<rect x="319" y="245" width="1" height="38" fill="#1E90FF"/>
<rect x="318" y="256" width="3" height="27" fill="#1E90FF"/>
<rect x="323" y="209" width="1" height="53" fill="#1E90FF"/>
<rect x="322" y="213" width="3" height="44" fill="#1E90FF"/>
<rect x="327" y="191" width="1" height="29" fill="#1E90FF"/>
<rect x="326" y="209" width="3" height="4" fill="#1E90FF"/>
<rect x="331" y="201" width="1" height="44" fill="#FF0000"/>
<rect x="330" y="209" width="3" height="27" fill="#FF0000"/>
<rect x="335" y="212" width="1" height="35" fill="#1E90FF"/>
<rect x="334" y="224" width="3" height="15" fill="#1E90FF"/>
<rect x="339" y="220" width="1" height="23" fill="#FF0000"/>
<rect x="338" y="224" width="3" height="6" fill="#FF0000"/>
<rect x="343" y="225" width="1" height="35" fill="#FF0000"/>
<rect x="342" y="229" width="3" height="30" fill="#FF0000"/>
<rect x="347" y="232" width="1" height="29" fill="#1E90FF"/>
<rect x="346" y="246" width="3" height="13" fill="#1E90FF"/>
<rect x="351" y="214" width="1" height="34" fill="#1E90FF"/>
<rect x="350" y="221" width="3" height="25" fill="#1E90FF"/>
<rect x="355" y="198" width="1" height="74" fill="#1E90FF"/>
<rect x="354" y="216" width="3" height="6" fill="#1E90FF"/>
<rect x="359" y="167" width="1" height="57" fill="#1E90FF"/>
<rect x="358" y="186" width="3" height="32" fill="#1E90FF"/>
<rect x="363" y="170" width="1" height="38" fill="#FF0000"/>
<rect x="362" y="186" width="3" height="11" fill="#FF0000"/>
<rect x="367" y="187" width="1" height="39" fill="#FF0000"/>
<rect x="366" y="195" width="3" height="11" fill="#FF0000"/>
<rect x="371" y="189" width="1" height="17" fill="#1E90FF"/>
<rect x="370" y="201" width="3" height="5" fill="#1E90FF"/>
<rect x="375" y="199" width="1" height="23" fill="#FF0000"/>
<rect x="374" y="201" width="3" height="19" fill="#FF0000"/>
<rect x="379" y="213" width="1" height="13" fill="#FF0000"/>
<rect x="378" y="219" width="3" height="3" fill="#FF0000"/>
<rect x="383" y="214" width="1" height="13" fill="#1E90FF"/>
<rect x="382" y="217" width="3" height="7" fill="#1E90FF"/>
<rect x="387" y="210" width="1" height="9" fill="#1E90FF"/>
<rect x="386" y="211" width="3" height="7" fill="#1E90FF"/>
<rect x="391" y="211" width="1" height="11" fill="#FF0000"/>
<rect x="390" y="211" width="3" height="4" fill="#FF0000"/>
<rect x="395" y="140" width="1" height="75" fill="#1E90FF"/>
<rect x="394" y="149" width="3" height="66" fill="#1E90FF"/>
<rect x="399" y="124" width="1" height="35" fill="#1E90FF"/>
<rect x="398" y="133" width="3" height="17" fill="#1E90FF"/>
<rect x="403" y="131" width="1" height="7" fill="#FF0000"/>
<rect x="402" y="133" width="3" height="2" fill="#FF0000"/>
<rect x="407" y="134" width="1" height="9" fill="#FF0000"/>
<rect x="406" y="134" width="3" height="8" fill="#FF0000"/>
<rect x="411" y="123" width="1" height="22" fill="#1E90FF"/>
<rect x="410" y="139" width="3" height="3" fill="#1E90FF"/>
<rect x="415" y="132" width="1" height="22" fill="#FF0000"/>
<rect x="414" y="139" width="3" height="14" fill="#FF0000"/>
<rect x="419" y="141" width="1" height="28" fill="#FF0000"/>
<rect x="418" y="152" width="3" height="4" fill="#FF0000"/>
<rect x="423" y="129" width="1" height="34" fill="#1E90FF"/>
<rect x="422" y="156" width="3" height="1" fill="#1E90FF"/>
<rect x="427" y="127" width="1" height="39" fill="#1E90FF"/>
<rect x="426" y="154" width="3" height="3" fill="#1E90FF"/>
<rect x="431" y="146" width="1" height="19" fill="#FF0000"/>
<rect x="430" y="152" width="3" height="9" fill="#FF0000"/>
<rect x="435" y="145" width="1" height="45" fill="#FF0000"/>
<rect x="434" y="160" width="3" height="20" fill="#FF0000"/>
<rect x="439" y="134" width="1" height="46" fill="#1E90FF"/>
<rect x="438" y="145" width="3" height="35" fill="#1E90FF"/>
<rect x="443" y="133" width="1" height="27" fill="#FF0000"/>
<rect x="442" y="145" width="3" height="2" fill="#FF0000"/>
<rect x="447" y="93" width="1" height="67" fill="#1E90FF"/>
<rect x="446" y="108" width="3" height="39" fill="#1E90FF"/>
<rect x="451" y="28" width="1" height="81" fill="#1E90FF"/>
<rect x="450" y="57" width="3" height="52" fill="#1E90FF"/>
<rect x="455" y="42" width="1" height="59" fill="#FF0000"/>
<rect x="454" y="57" width="3" height="33" fill="#FF0000"/>
<rect x="459" y="69" width="1" height="50" fill="#1E90FF"/>
<rect x="458" y="83" width="3" height="7" fill="#1E90FF"/>
<rect x="463" y="57" width="1" height="37" fill="#1E90FF"/>
<rect x="462" y="58" width="3" height="26" fill="#1E90FF"/>
<rect x="467" y="56" width="1" height="17" fill="#FF0000"/>
<rect x="466" y="58" width="3" height="4" fill="#FF0000"/>
<rect x="471" y="56" width="1" height="15" fill="#1E90FF"/>
<rect x="470" y="61" width="3" height="1" fill="#1E90FF"/>
<rect x="475" y="40" width="1" height="27" fill="#1E90FF"/>
<rect x="474" y="58" width="3" height="4" fill="#1E90FF"/>
<rect x="479" y="50" width="1" height="31" fill="#FF0000"/>
<rect x="478" y="58" width="3" height="20" fill="#FF0000"/>
<rect x="483" y="47" width="1" height="31" fill="#1E90FF"/>
<rect x="482" y="55" width="3" height="23" fill="#1E90FF"/>
<rect x="487" y="27" width="1" height="32" fill="#1E90FF"/>
<rect x="486" y="35" width="3" height="21" fill="#1E90FF"/>
<rect x="491" y="33" width="1" height="25" fill="#FF0000"/>
<rect x="490" y="35" width="3" height="16" fill="#FF0000"/>
<rect x="495" y="44" width="1" height="14" fill="#FF0000"/>
<rect x="494" y="50" width="3" height="6" fill="#FF0000"/>
<rect x="499" y="49" width="1" height="11" fill="#1E90FF"/>
<rect x="498" y="51" width="3" height="5" fill="#1E90FF"/>
<rect x="503" y="49" width="1" height="15" fill="#FF0000"/>
<rect x="502" y="51" width="3" height="9" fill="#FF0000"/>
<rect x="507" y="46" width="1" height="14" fill="#1E90FF"/>
<rect x="506" y="49" width="3" height="11" fill="#1E90FF"/>
<rect x="511" y="47" width="1" height="23" fill="#FF0000"/>
<rect x="510" y="49" width="3" height="17" fill="#FF0000"/>
<rect x="515" y="51" width="1" height="31" fill="#1E90FF"/>
<rect x="514" y="60" width="3" height="6" fill="#1E90FF"/>
<rect x="519" y="39" width="1" height="53" fill="#FF0000"/>
<rect x="518" y="60" width="3" height="22" fill="#FF0000"/>
<rect x="523" y="74" width="1" height="53" fill="#FF0000"/>
<rect x="522" y="80" width="3" height="35" fill="#FF0000"/>
<rect x="527" y="98" width="1" height="33" fill="#1E90FF"/>
<rect x="526" y="109" width="3" height="6" fill="#1E90FF"/>
<rect x="531" y="85" width="1" height="30" fill="#1E90FF"/>
<rect x="530" y="91" width="3" height="19" fill="#1E90FF"/>
<rect x="535" y="84" width="1" height="23" fill="#FF0000"/>
<rect x="534" y="91" width="3" height="7" fill="#FF0000"/>
<rect x="539" y="93" width="1" height="63" fill="#FF0000"/>
<rect x="538" y="96" width="3" height="30" fill="#FF0000"/>
<rect x="543" y="123" width="1" height="27" fill="#FF0000"/>
<rect x="542" y="125" width="3" height="21" fill="#FF0000"/>
<rect x="547" y="109" width="1" height="45" fill="#1E90FF"/>
<rect x="546" y="110" width="3" height="36" fill="#1E90FF"/>
<rect x="551" y="65" width="1" height="68" fill="#1E90FF"/>
<rect x="550" y="88" width="3" height="23" fill="#1E90FF"/>
<rect x="555" y="73" width="1" height="35" fill="#1E90FF"/>
<rect x="554" y="83" width="3" height="7" fill="#1E90FF"/>
<rect x="559" y="83" width="1" height="28" fill="#FF0000"/>
<rect x="558" y="83" width="3" height="22" fill="#FF0000"/>
<rect x="563" y="103" width="1" height="70" fill="#FF0000"/>
<rect x="562" y="104" width="3" height="37" fill="#FF0000"/>
<rect x="567" y="127" width="1" height="16" fill="#1E90FF"/>
<rect x="566" y="136" width="3" height="5" fill="#1E90FF"/>
<rect x="571" y="135" width="1" height="4" fill="#FF0000"/>
<rect x="570" y="136" width="3" height="2" fill="#FF0000"/>
<rect x="575" y="126" width="1" height="64" fill="#1E90FF"/>
<rect x="574" y="131" width="3" height="52" fill="#1E90FF"/>
<rect x="579" y="77" width="1" height="56" fill="#1E90FF"/>
<rect x="578" y="109" width="3" height="23" fill="#1E90FF"/>
<rect x="583" y="103" width="1" height="19" fill="#FF0000"/>
<rect x="582" y="109" width="3" height="13" fill="#FF0000"/>
<rect x="587" y="120" width="1" height="21" fill="#FF0000"/>
<rect x="586" y="121" width="3" height="4" fill="#FF0000"/>
<rect x="591" y="124" width="1" height="19" fill="#FF0000"/>
<rect x="590" y="125" width="3" height="12" fill="#FF0000"/>
<rect x="595" y="132" width="1" height="10" fill="#1E90FF"/>
<rect x="594" y="133" width="3" height="4" fill="#1E90FF"/>
<rect x="599" y="133" width="1" height="10" fill="#FF0000"/>
<rect x="598" y="133" width="3" height="10" fill="#FF0000"/>
<rect x="603" y="140" width="1" height="10" fill="#FF0000"/>
<rect x="602" y="142" width="3" height="8" fill="#FF0000"/>
<rect x="607" y="147" width="1" height="21" fill="#FF0000"/>
<rect x="606" y="149" width="3" height="7" fill="#FF0000"/>
<rect x="611" y="152" width="1" height="56" fill="#FF0000"/>
<rect x="610" y="155" width="3" height="25" fill="#FF0000"/>
<rect x="615" y="152" width="1" height="43" fill="#1E90FF"/>
<rect x="614" y="174" width="3" height="6" fill="#1E90FF"/>
<rect x="619" y="171" width="1" height="29" fill="#FF0000"/>
<rect x="618" y="174" width="3" height="17" fill="#FF0000"/>
<rect x="623" y="181" width="1" height="24" fill="#FF0000"/>
<rect x="622" y="191" width="3" height="5" fill="#FF0000"/>
<rect x="627" y="62" width="1" height="135" fill="#1E90FF"/>
<rect x="626" y="90" width="3" height="105" fill="#1E90FF"/>
<rect x="631" y="42" width="1" height="64" fill="#1E90FF"/>
<rect x="630" y="82" width="3" height="9" fill="#1E90FF"/>
<rect x="635" y="54" width="1" height="53" fill="#1E90FF"/>
<rect x="634" y="82" width="3" height="1" fill="#1E90FF"/>
<rect x="639" y="68" width="1" height="30" fill="#1E90FF"/>
<rect x="638" y="76" width="3" height="6" fill="#1E90FF"/>
<rect x="643" y="61" width="1" height="154" fill="#FF0000"/>
<rect x="642" y="76" width="3" height="50" fill="#FF0000"/>
<rect x="647" y="119" width="1" height="51" fill="#FF0000"/>
<rect x="646" y="124" width="3" height="23" fill="#FF0000"/>
<rect x="651" y="141" width="1" height="30" fill="#FF0000"/>
<rect x="650" y="146" width="3" height="9" fill="#FF0000"/>
<rect x="655" y="135" width="1" height="24" fill="#1E90FF"/>
<rect x="654" y="136" width="3" height="19" fill="#1E90FF"/>
<rect x="659" y="125" width="1" height="19" fill="#FF0000"/>
<rect x="658" y="136" width="3" height="3" fill="#FF0000"/>
<rect x="663" y="136" width="1" height="16" fill="#FF0000"/>
<rect x="662" y="137" width="3" height="8" fill="#FF0000"/>
<rect x="667" y="122" width="1" height="25" fill="#1E90FF"/>
<rect x="666" y="126" width="3" height="19" fill="#1E90FF"/>
<rect x="671" y="122" width="1" height="13" fill="#FF0000"/>
<rect x="670" y="128" width="3" height="2" fill="#FF0000"/>
<rect x="675" y="127" width="1" height="8" fill="#FF0000"/>
<rect x="674" y="129" width="3" height="5" fill="#FF0000"/>
<rect x="679" y="127" width="1" height="15" fill="#FF0000"/>
<rect x="678" y="133" width="3" height="2" fill="#FF0000"/>
<rect x="683" y="128" width="1" height="16" fill="#FF0000"/>
<rect x="682" y="133" width="3" height="5" fill="#FF0000"/>
<rect x="687" y="134" width="1" height="11" fill="#FF0000"/>
<rect x="686" y="137" width="3" height="3" fill="#FF0000"/>
<rect x="691" y="136" width="1" height="12" fill="#1E90FF"/>
<rect x="690" y="139" width="3" height="1" fill="#1E90FF"/>
<rect x="695" y="129" width="1" height="12" fill="#1E90FF"/>
<rect x="694" y="138" width="3" height="2" fill="#1E90FF"/>
<rect x="699" y="132" width="1" height="11" fill="#1E90FF"/>
<rect x="698" y="136" width="3" height="3" fill="#1E90FF"/>
<rect x="703" y="135" width="1" height="53" fill="#FF0000"/>
<rect x="702" y="136" width="3" height="44" fill="#FF0000"/>
<rect x="707" y="168" width="1" height="57" fill="#FF0000"/>
<rect x="706" y="179" width="3" height="41" fill="#FF0000"/>
<rect x="711" y="207" width="1" height="69" fill="#FF0000"/>
<rect x="710" y="221" width="3" height="31" fill="#FF0000"/>
<rect x="715" y="196" width="1" height="61" fill="#1E90FF"/>
<rect x="714" y="200" width="3" height="52" fill="#1E90FF"/>
<rect x="719" y="193" width="1" height="27" fill="#FF0000"/>
<rect x="718" y="200" width="3" height="4" fill="#FF0000"/>
<rect x="723" y="198" width="1" height="35" fill="#FF0000"/>
<rect x="722" y="203" width="3" height="14" fill="#FF0000"/>
<rect x="727" y="177" width="1" height="53" fill="#1E90FF"/>
<rect x="726" y="212" width="3" height="5" fill="#1E90FF"/>
<rect x="731" y="184" width="1" height="33" fill="#1E90FF"/>
<rect x="730" y="190" width="3" height="23" fill="#1E90FF"/>
<clipPath id="cp"><rect x="3" y="3" width="754" height="491"/></clipPath>
<polyline clip-path="url(#cp)" points="3,490.5 25,483.25 50,475.5 75,465.5 95.5,457 125,449.25 150,441.25 162.5,435.5 175,432 200,426 225,418.75 250,414.5 275,408.25 287.5,405.5 300,401.25 325,393 350,387 375,378 400,367.75 425,356.75 450,346.25 475,333.75 500,320.5 525,309.25 550,300 575,289.25 585,283.75 600,278.5 610,273.75 627.5,268.75 635,265 660,255.75 672.5,250.75 685,246.25 697.5,243 710,241.25 722.5,240 732.5,238.75" fill="none" stroke="#FF0000" stroke-width="3.6" stroke-linejoin="round" stroke-linecap="round"/>
<rect x="3" y="43" width="754" height="1" fill="#FF0000"/>
<rect x="3" y="330" width="754" height="1" fill="#FF0000"/>
<rect x="3" y="492" width="754" height="1" fill="#FF0000"/>
<polyline points="3,537.5 10,538.4 16,539.4 22,541.25 28,542.25 34,544.4 40,542.5 46,539.75 52,536.5 58,533.75 64,530.6 70,527.5 76,526.5 82,527.25 88,528.5 94,531.25 100,532.5 107,535 112.5,537.5 118.5,539 124.5,540.6 130,541.5 136.5,539.4 142.5,536.5 148.5,533 154,529 160,526.5 166.5,526.5 172.5,529 178.5,535 184.5,540.25 190,544 196.5,545.25 203,546.25 208.5,546 214.5,545.25 220.5,544 226,542.25 232.5,542.25 238.5,545 244.5,549 250.5,553 256.5,558 262,563.5 267,565.6 273,561.25 276.5,555.25 279,549.4 282,543.5 285,537.25 288.5,531.5 293,526.25 299.5,524 305,522.25 311.5,522.25 317.5,522.25 323.5,520 329,516 335,512.75 341.5,511.5 347.5,513.5 353.5,515.6 359.5,516.5 365.5,514.4 371.5,513.5 377,513.75 383.5,516 390,519 395.5,520.25 401.5,517 407.5,512.25 413.5,508 419.5,508.25 425.5,510.25 431.5,513.75 437.5,517.25 443.5,519.4 449.5,518 455.5,514.4 461.5,509.4 467.5,504.75 473.5,502.75 479.5,502.5 485,503.75 491.5,504.4 497.5,506.5 503.5,507.25 509.5,510.25 515.5,513.75 521.5,518 527.5,524.4 533.5,529.75 539.5,535.25 545.5,539 551.5,541.25 557.5,541.9 563.5,541.25 569.5,542.75 575.5,545.25 581.5,547.5 587.5,547.5 593.5,546.5 599.5,547.5 605.5,548.75 611.5,551.25 617.5,555 623.5,558.5 629.5,555.6 635.5,550.25 639.5,544.4 643.5,538 649.5,536.5 655.5,538.5 661.5,542.25 667.5,545.25 673.5,544.5 679.5,544.5 685.5,543.5 691.5,544.5 697.5,544.5 703,545.6 709,550.25 714.5,556.25 720.5,562.25 726.5,566" fill="none" stroke="#FF0000" stroke-width="1" stroke-dasharray="3 3"/>
<g fill="#000">
<rect x="2" y="2" width="756" height="1"/>
<rect x="2" y="494" width="756" height="1"/>
<rect x="2" y="2" width="1" height="493"/>
<rect x="757" y="2" width="1" height="493"/>
<rect x="2" y="496" width="756" height="1"/>
<rect x="2" y="579" width="756" height="1"/>
<rect x="2" y="496" width="1" height="84"/>
<rect x="757" y="496" width="1" height="84"/>
<rect x="758" y="29" width="2" height="1"/>
<rect x="758" y="62" width="2" height="1"/>
<rect x="758" y="95" width="2" height="1"/>
<rect x="758" y="128" width="2" height="1"/>
<rect x="758" y="161" width="2" height="1"/>
<rect x="758" y="194" width="2" height="1"/>
<rect x="758" y="227" width="2" height="1"/>
<rect x="758" y="260" width="2" height="1"/>
<rect x="758" y="293" width="2" height="1"/>
<rect x="758" y="326" width="2" height="1"/>
<rect x="758" y="359" width="2" height="1"/>
<rect x="758" y="392" width="2" height="1"/>
<rect x="758" y="425" width="2" height="1"/>
<rect x="758" y="458" width="2" height="1"/>
<rect x="758" y="491" width="2" height="1"/>
<rect x="758" y="541" width="2" height="1"/>
<rect x="758" y="498" width="2" height="1"/>
<rect x="758" y="578" width="1" height="1"/>
<rect x="3" y="580" width="1" height="3"/>
<rect x="67" y="580" width="1" height="3"/>
<rect x="131" y="580" width="1" height="3"/>
<rect x="195" y="580" width="1" height="3"/>
<rect x="259" y="580" width="1" height="3"/>
<rect x="323" y="580" width="1" height="3"/>
<rect x="387" y="580" width="1" height="3"/>
<rect x="451" y="580" width="1" height="3"/>
<rect x="515" y="580" width="1" height="3"/>
<rect x="579" y="580" width="1" height="3"/>
<rect x="643" y="580" width="1" height="3"/>
<rect x="707" y="580" width="1" height="3"/>
</g>
<text x="763.4" y="32.9" textLength="32.5" lengthAdjust="spacingAndGlyphs">1.35475</text>
<text x="763.4" y="65.9" textLength="32.5" lengthAdjust="spacingAndGlyphs">1.35235</text>
<text x="763.4" y="98.9" textLength="32.5" lengthAdjust="spacingAndGlyphs">1.34995</text>
<text x="763.4" y="131.9" textLength="32.5" lengthAdjust="spacingAndGlyphs">1.34755</text>
<text x="763.4" y="164.9" textLength="32.5" lengthAdjust="spacingAndGlyphs">1.34520</text>
<text x="763.4" y="197.9" textLength="32.5" lengthAdjust="spacingAndGlyphs">1.34280</text>
<text x="763.4" y="230.9" textLength="32.5" lengthAdjust="spacingAndGlyphs">1.34040</text>
<text x="763.4" y="263.9" textLength="32.5" lengthAdjust="spacingAndGlyphs">1.33800</text>
<text x="763.4" y="296.9" textLength="32.5" lengthAdjust="spacingAndGlyphs">1.33560</text>
<text x="763.4" y="329.9" textLength="32.5" lengthAdjust="spacingAndGlyphs">1.33320</text>
<text x="763.4" y="362.9" textLength="32.5" lengthAdjust="spacingAndGlyphs">1.33085</text>
<text x="763.4" y="395.9" textLength="32.5" lengthAdjust="spacingAndGlyphs">1.32845</text>
<text x="763.4" y="428.9" textLength="32.5" lengthAdjust="spacingAndGlyphs">1.32605</text>
<text x="763.4" y="461.9" textLength="32.5" lengthAdjust="spacingAndGlyphs">1.32365</text>
<rect x="759" y="185" width="41" height="11" fill="#000"/>
<text x="764" y="193.8" textLength="32" lengthAdjust="spacingAndGlyphs" style="fill:#fff;stroke:#fff">1.34307</text>
<rect x="759" y="37" width="41" height="11" fill="#FF0000"/>
<text x="764" y="45.8" textLength="32" lengthAdjust="spacingAndGlyphs" style="fill:#fff;stroke:#fff">1.35370</text>
<rect x="759" y="324" width="41" height="11" fill="#FF0000"/>
<text x="764" y="332.8" textLength="32" lengthAdjust="spacingAndGlyphs" style="fill:#fff;stroke:#fff">1.33295</text>
<rect x="759" y="486" width="41" height="11" fill="#FF0000"/>
<text x="764" y="494.8" textLength="32" lengthAdjust="spacingAndGlyphs" style="fill:#fff;stroke:#fff">1.32124</text>
<text x="761.5" y="507" textLength="36.5" lengthAdjust="spacingAndGlyphs">0.006735</text>
<text x="761.5" y="545" textLength="17" lengthAdjust="spacingAndGlyphs">0.00</text>
<text x="761.5" y="576" textLength="40" lengthAdjust="spacingAndGlyphs">-0.005665</text>
<polygon points="6,9 13,9 9.5,13" fill="#000" shape-rendering="geometricPrecision"/>
<text x="18.3" y="13.5" textLength="54" lengthAdjust="spacingAndGlyphs">GBPUSD,H1</text>
<text x="78.6" y="13.5" textLength="32.5" lengthAdjust="spacingAndGlyphs">1.34153</text>
<text x="115" y="13.5" textLength="32.5" lengthAdjust="spacingAndGlyphs">1.34351</text>
<text x="150.5" y="13.5" textLength="32.5" lengthAdjust="spacingAndGlyphs">1.34120</text>
<text x="186.5" y="13.5" textLength="32.5" lengthAdjust="spacingAndGlyphs">1.34307</text>
<text x="7.8" y="508.7" textLength="59.5" lengthAdjust="spacingAndGlyphs">MACD(5,34,5)</text>
<text x="70.9" y="508.7" textLength="40.5" lengthAdjust="spacingAndGlyphs">-0.003024</text>
<text x="115.2" y="508.7" textLength="40" lengthAdjust="spacingAndGlyphs">-0.003512</text>
<text x="1.8" y="592" textLength="53" lengthAdjust="spacingAndGlyphs">24 Nov 2017</text>
<text x="65.8" y="592" textLength="56" lengthAdjust="spacingAndGlyphs">24 Nov 17:00</text>
<text x="129.8" y="592" textLength="56" lengthAdjust="spacingAndGlyphs">27 Nov 09:00</text>
<text x="193.8" y="592" textLength="56" lengthAdjust="spacingAndGlyphs">28 Nov 01:00</text>
<text x="257.8" y="592" textLength="56" lengthAdjust="spacingAndGlyphs">28 Nov 17:00</text>
<text x="321.8" y="592" textLength="56" lengthAdjust="spacingAndGlyphs">29 Nov 09:00</text>
<text x="385.8" y="592" textLength="56" lengthAdjust="spacingAndGlyphs">30 Nov 01:00</text>
<text x="449.8" y="592" textLength="56" lengthAdjust="spacingAndGlyphs">30 Nov 17:00</text>
<text x="513.8" y="592" textLength="49" lengthAdjust="spacingAndGlyphs">1 Dec 09:00</text>
<text x="577.8" y="592" textLength="49" lengthAdjust="spacingAndGlyphs">4 Dec 01:00</text>
<text x="641.8" y="592" textLength="49" lengthAdjust="spacingAndGlyphs">4 Dec 17:00</text>
<text x="705.8" y="592" textLength="49" lengthAdjust="spacingAndGlyphs">5 Dec 09:00</text>
</svg></body></html>
